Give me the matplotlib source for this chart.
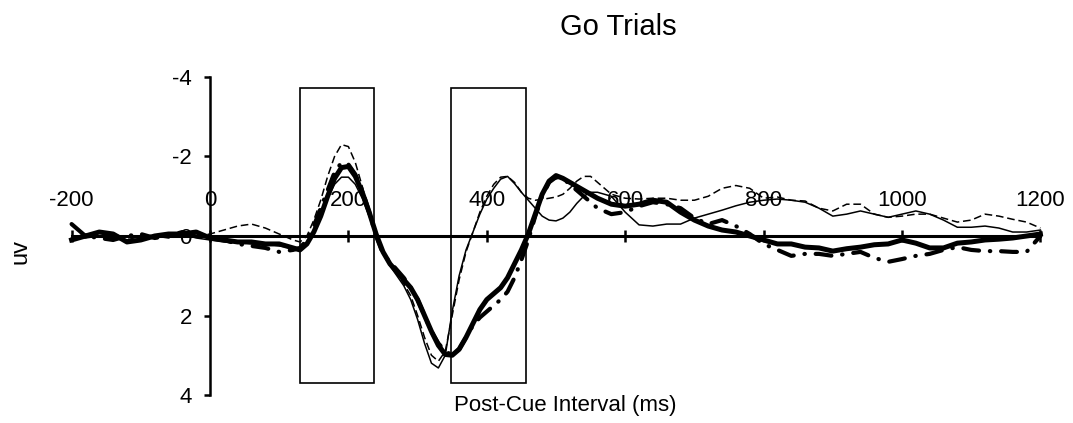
import matplotlib
matplotlib.use("Agg")
import matplotlib.pyplot as plt
from matplotlib import font_manager
from matplotlib.patches import Rectangle

# time points (ms) and the four averaged waveforms (uV)
times = [-200, -180, -160, -140, -120, -100, -80, -60, -40, -20, 0, 20, 40, 60, 80, 100, 120,
         130, 140, 150, 160, 170, 180, 190, 200, 210, 220, 230, 240, 250, 260, 270, 280, 290,
         300, 310, 320, 330, 340, 350, 360, 370, 380, 390, 400, 410, 420, 430, 440, 450, 460,
         470, 480, 490, 500, 510, 520, 530, 540, 550, 560,
         580, 600, 620, 640, 660, 680, 700, 720, 740, 760, 780, 800, 820, 840, 860, 880, 900,
         920, 940, 960, 980, 1000, 1020, 1040, 1060, 1080, 1100, 1120, 1140, 1160, 1180, 1200]

thin_solid = [0.05, -0.05, 0.0, 0.05, 0.1, 0.0, 0.05, 0.0, -0.05, 0.05, 0.1, 0.15, 0.15, 0.2, 0.2, 0.25, 0.3,
              0.3, 0.2, -0.1, -0.5, -0.95, -1.3, -1.48, -1.48, -1.3, -0.95, -0.5, 0.0, 0.45, 0.75, 1.0, 1.25, 1.6,
              2.1, 2.7, 3.2, 3.32, 3.0, 1.9, 1.0, 0.35, -0.1, -0.55, -0.93, -1.2, -1.43, -1.5, -1.32, -1.1, -0.9,
              -0.7, -0.5, -0.4, -0.38, -0.45, -0.6, -0.82, -1.0, -1.1, -1.1,
              -1.0, -0.6, -0.28, -0.25, -0.3, -0.3, -0.45, -0.55, -0.65, -0.76, -0.85, -0.9, -0.93, -0.9, -0.85, -0.7, -0.5,
              -0.55, -0.63, -0.55, -0.47, -0.55, -0.63, -0.55, -0.4, -0.22, -0.22, -0.25, -0.2, -0.1, -0.1, -0.15]

thin_dashed = [0.0, 0.05, 0.0, -0.05, 0.05, 0.0, 0.0, 0.05, 0.0, 0.0, -0.05, -0.15, -0.25, -0.3, -0.2, -0.05, 0.1,
               0.15, 0.0, -0.4, -0.9, -1.5, -2.0, -2.3, -2.25, -1.85, -1.25, -0.6, -0.05, 0.35, 0.7, 0.95, 1.2, 1.5,
               2.0, 2.55, 3.0, 3.15, 2.9, 2.0, 1.1, 0.4, -0.1, -0.6, -1.0, -1.3, -1.48, -1.5, -1.35, -1.1, -0.95,
               -0.9, -0.92, -0.95, -0.98, -1.05, -1.2, -1.38, -1.5, -1.5, -1.35,
               -1.05, -0.95, -0.93, -0.95, -0.95, -0.9, -0.9, -1.0, -1.2, -1.27, -1.2, -0.95, -0.98, -0.9, -0.88, -0.7, -0.63,
               -0.8, -0.8, -0.55, -0.47, -0.5, -0.55, -0.55, -0.45, -0.35, -0.4, -0.55, -0.5, -0.42, -0.35, -0.2]

thick_solid = [0.1, 0.0, -0.1, -0.05, 0.15, 0.1, 0.0, -0.05, -0.05, -0.1, 0.05, 0.1, 0.15, 0.15, 0.2, 0.2, 0.3,
               0.35, 0.2, -0.1, -0.5, -1.0, -1.45, -1.72, -1.75, -1.5, -1.1, -0.6, -0.05, 0.4, 0.7, 0.9, 1.1, 1.3,
               1.6, 2.0, 2.4, 2.75, 2.98, 3.0, 2.85, 2.55, 2.2, 1.85, 1.6, 1.45, 1.3, 1.05, 0.7, 0.35, -0.05,
               -0.55, -1.05, -1.38, -1.52, -1.45, -1.35, -1.25, -1.15, -1.05, -0.95,
               -0.8, -0.75, -0.8, -0.9, -0.85, -0.6, -0.4, -0.25, -0.15, -0.1, 0.0, 0.1, 0.2, 0.2, 0.28, 0.3, 0.38,
               0.32, 0.28, 0.22, 0.2, 0.1, 0.18, 0.3, 0.3, 0.18, 0.15, 0.1, 0.08, 0.05, 0.0, -0.05]

thick_dashdot = [-0.3, 0.0, 0.05, 0.1, 0.0, -0.05, 0.05, 0.0, -0.1, 0.0, 0.0, 0.1, 0.2, 0.25, 0.3, 0.4, 0.35,
                 0.3, 0.1, -0.25, -0.7, -1.15, -1.6, -1.85, -1.8, -1.55, -1.15, -0.6, 0.0, 0.45, 0.65, 0.85, 1.05, 1.3,
                 1.6, 2.0, 2.4, 2.7, 2.9, 3.0, 2.85, 2.55, 2.25, 2.05, 1.9, 1.75, 1.6, 1.4, 1.05, 0.6, 0.1,
                 -0.5, -1.0, -1.35, -1.48, -1.45, -1.3, -1.15, -1.0, -0.85, -0.7,
                 -0.55, -0.6, -0.75, -0.85, -0.8, -0.7, -0.45, -0.3, -0.4, -0.25, -0.05, 0.2, 0.35, 0.5, 0.45, 0.45, 0.5,
                 0.45, 0.4, 0.55, 0.65, 0.58, 0.5, 0.45, 0.35, 0.28, 0.35, 0.38, 0.38, 0.4, 0.4, 0.0]

x_ticks = [-200, 0, 200, 400, 600, 800, 1000, 1200]
y_ticks = [-4, -2, 0, 2, 4]
windows = [(130, 237), (348, 457)]  # analysis windows, ms


def pick_font(name, fallback):
    try:
        font_manager.findfont(font_manager.FontProperties(family=name), fallback_to_default=False)
        return name, True
    except ValueError:
        return fallback, False


narrow, has_narrow = pick_font("Liberation Sans Narrow", "Liberation Sans")
tick_size = 18 if has_narrow else 16
plt.rcParams["font.family"] = ["Liberation Sans", "DejaVu Sans"]

fig = plt.figure(figsize=(10.73, 4.23), dpi=100)
ax = fig.add_axes([71.6 / 1073, 1 - 395 / 423, 968.8 / 1073, 318 / 423])
ax.set_xlim(-200, 1200)
ax.set_ylim(4, -4)
ax.set_axisbelow(True)

for sp in ["top", "right"]:
    ax.spines[sp].set_visible(False)
ax.spines["left"].set_position(("data", 0))
ax.spines["left"].set_bounds(-4, 4)
ax.spines["left"].set_linewidth(1.8)
ax.spines["bottom"].set_position(("data", 0))
ax.spines["bottom"].set_bounds(-200, 1200)
ax.spines["bottom"].set_linewidth(2.2)

ax.set_xticks(x_ticks)
ax.tick_params(axis="x", direction="inout", length=9, width=1.8, labelbottom=False)
ax.set_yticks(y_ticks)
ax.set_yticklabels([str(v) for v in y_ticks], fontfamily=narrow, fontsize=tick_size)
ax.tick_params(axis="y", direction="out", length=4, width=1.8, pad=9)

for t in x_ticks:
    ax.text(t, -0.76, str(t), ha="center", va="baseline", fontfamily=narrow,
            fontsize=tick_size, zorder=1)

for a, b in windows:
    ax.add_patch(Rectangle((a, -3.72), b - a, 7.42, fill=False, ec="black", lw=1.2, zorder=1.5))

ax.plot(times, thin_solid, color="black", lw=1.1, zorder=3, clip_on=False)
ax.plot(times, thin_dashed, color="black", lw=1.1, ls=(0, (5, 2.5)), zorder=3, clip_on=False)
ax.plot(times, thick_dashdot, color="black", lw=3.0, ls=(0, (3.8, 2.6, 0.1, 2.6)),
        dash_capstyle="round", zorder=3, clip_on=False)
ax.plot(times, thick_solid, color="black", lw=3.6, zorder=3, clip_on=False)

fig.text(618 / 1073, 1 - 35 / 423, "Go Trials", ha="center", va="baseline", fontsize=21)
fig.text(565 / 1073, 1 - 411 / 423, "Post-Cue Interval (ms)", ha="center", va="baseline", fontsize=16)
fig.text(20 / 1073, 1 - 252 / 423, "uv", ha="center", va="center", rotation=90, fontsize=17)

fig.savefig("out.png", dpi=100)
